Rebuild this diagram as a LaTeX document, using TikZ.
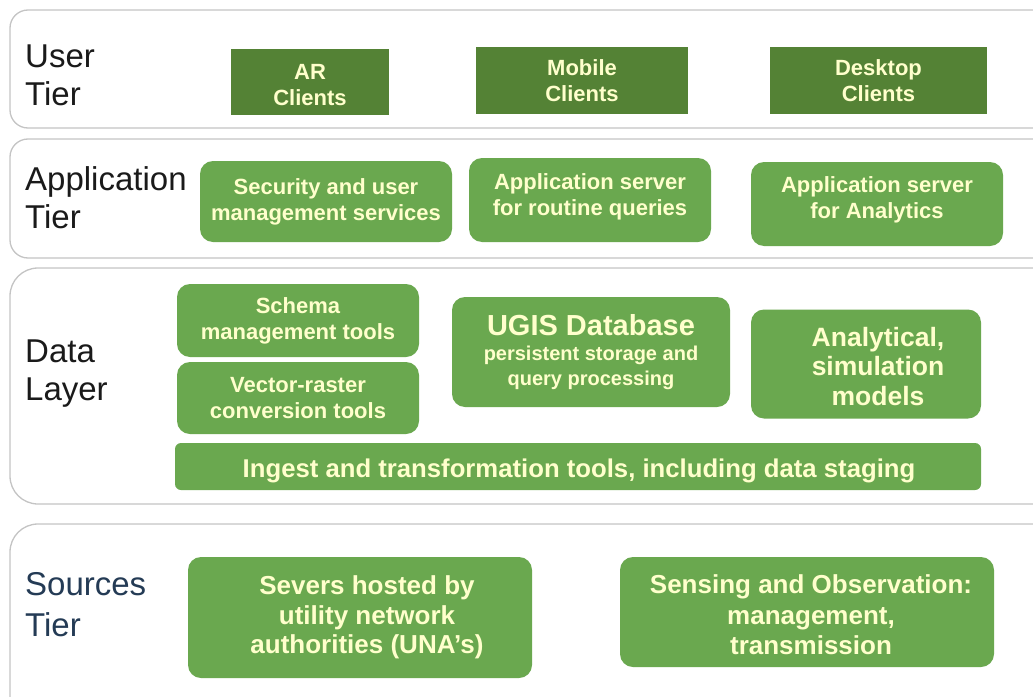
\documentclass[tikz,border=0pt]{standalone}
\usepackage{fontspec}
\setmainfont{Liberation Sans}
\definecolor{lgreen}{HTML}{6AA84F}
\definecolor{dgreen}{HTML}{548235}
\definecolor{pale}{HTML}{FFFFCC}
\definecolor{tierline}{HTML}{C4C4C4}
\definecolor{navy}{HTML}{243B55}
\definecolor{labelink}{HTML}{1A1A1A}
\tikzset{
  tierbox/.style={draw=tierline, line width=1.3pt, fill=white},
  greenbox/.style={fill=lgreen, rounded corners=13pt, text=pale, align=center, inner sep=0pt,
    font=\bfseries\fontsize{22}{26}\selectfont},
  darkbox/.style={fill=dgreen, text=pale, align=center, inner sep=0pt,
    font=\bfseries\fontsize{22}{26}\selectfont},
  boxtext/.style={text=pale, align=center, inner sep=0pt, font=\bfseries\fontsize{22}{26}\selectfont},
  tierlabel/.style={anchor=north west, inner sep=0pt, align=left, text=labelink,
    font=\fontsize{33}{38}\selectfont},
}
\begin{document}
\begin{tikzpicture}[x=1pt,y=-1pt]
\useasboundingbox (0,0) rectangle (1033,696);
\begin{scope}
\clip (0,0) rectangle (1033,696);
% tier frames
\draw[tierbox, rounded corners=18pt] (10,10) rectangle (1060,128);
\draw[tierbox, rounded corners=18pt] (10,139) rectangle (1060,258);
\draw[tierbox, rounded corners=28pt] (10,268) rectangle (1060,504);
\draw[tierbox, rounded corners=28pt] (10,524) rectangle (1060,730);
\end{scope}

% tier labels
\node[tierlabel] (luser) at (25,45) {User\\Tier};
\node[tierlabel] (lapp) at (25,166) {Application\\Tier};
\node[tierlabel] (ldata) at (25,340) {Data\\Layer};
\node[tierlabel, text=navy, font=\fontsize{33}{41}\selectfont] (lsrc) at (25,572) {Sources\\Tier};

% user tier
\node[darkbox, minimum width=158pt, minimum height=66pt] (ar) at (310,82) {};
\node[boxtext] (artext) at (310,85) {AR\\Clients};
\node[darkbox, minimum width=212pt, minimum height=67pt] (mobile) at (582,80.5) {Mobile\\Clients};
\node[darkbox, minimum width=217pt, minimum height=67pt] (desktop) at (878.5,80.5) {Desktop\\Clients};

% application tier
\node[greenbox, minimum width=252pt, minimum height=81pt] (security) at (326,201.5) {Security and user\\management services};
\node[greenbox, minimum width=242pt, minimum height=84pt] (routine) at (590,200) {};
\node[boxtext] (routinetext) at (590,197) {Application server\\for routine queries};
\node[greenbox, minimum width=252pt, minimum height=84pt] (analytics) at (877,204) {};
\node[boxtext] (analyticstext) at (877,200) {Application server\\for Analytics};

% data layer
\node[greenbox, minimum width=242pt, minimum height=73pt] (schema) at (298,320.5) {Schema\\management tools};
\node[greenbox, minimum width=242pt, minimum height=72pt] (vector) at (298,398) {Vector-raster\\conversion tools};
\node[greenbox, minimum width=278pt, minimum height=110pt, font=\bfseries\fontsize{20}{24.5}\selectfont] (ugis) at (591,352)
  {{\fontsize{29}{30}\selectfont UGIS Database}\\[1pt]persistent storage and\\query processing};
\node[greenbox, minimum width=230pt, minimum height=109pt] (models) at (866,364) {};
\node[boxtext, font=\bfseries\fontsize{26.5}{29.5}\selectfont] (modelstext) at (878,366.5)
  {Analytical,\\simulation\\models};
\node[greenbox, rounded corners=6pt, minimum width=806pt, minimum height=47pt] (ingest) at (578,466.5) {};
\node[boxtext, font=\bfseries\fontsize{25.7}{30}\selectfont] (ingesttext) at (579,471)
  {Ingest and transformation tools, including data staging};

% sources tier
\node[greenbox, minimum width=344pt, minimum height=121pt] (servers) at (360,617.5) {};
\node[boxtext, font=\bfseries\fontsize{26}{29.5}\selectfont] (serverstext) at (367,617.5)
  {Severs hosted by\\utility network\\authorities (UNA’s)};
\node[greenbox, minimum width=374pt, minimum height=110pt] (sensing) at (807,612) {};
\node[boxtext, font=\bfseries\fontsize{26}{30.5}\selectfont] (sensingtext) at (811,615)
  {Sensing and Observation:\\management,\\transmission};
\end{tikzpicture}
\end{document}
